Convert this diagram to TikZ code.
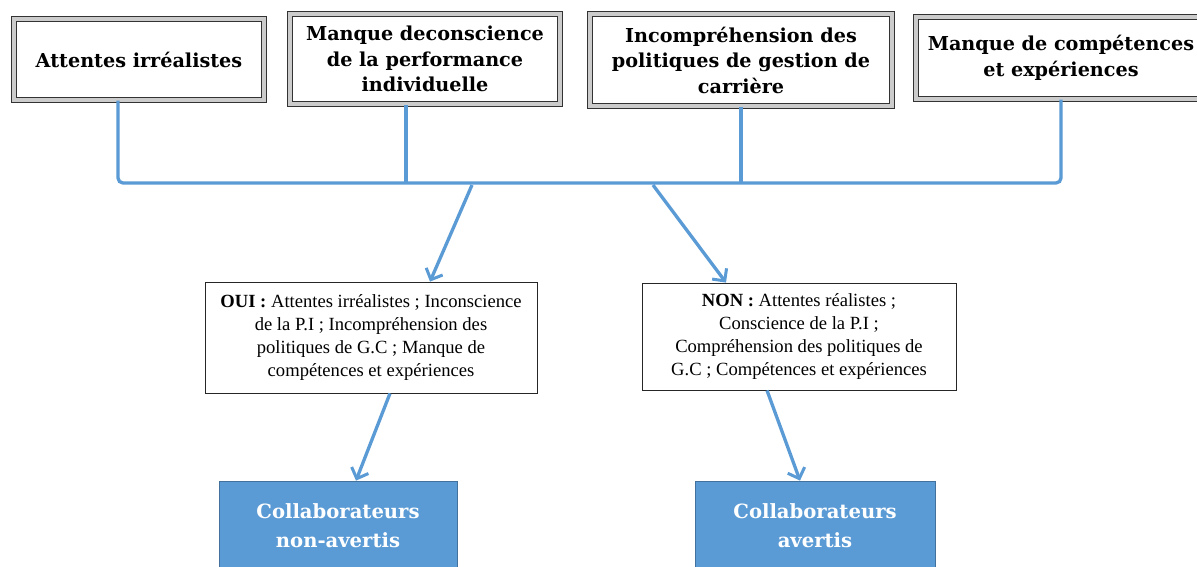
\documentclass[tikz,border=0pt]{standalone}
\usepackage{fontspec}
\setmainfont{Liberation Serif}
\newfontfamily\headfont{DejaVu Serif}
\usetikzlibrary{arrows.meta}
\definecolor{linkblue}{RGB}{91,155,213}
\definecolor{boxblue}{RGB}{91,155,213}
\definecolor{boxedge}{RGB}{65,113,156}
\tikzset{
  topbox/.style={draw=black!80, line width=1pt, double=black!20,
    double distance=3.5pt, fill=white, align=center, inner sep=0pt,
    font=\headfont\bfseries\fontsize{19.2}{25.5}\selectfont},
  midbox/.style={draw=black!85, line width=0.8pt, fill=white, align=center,
    inner sep=0pt, font=\fontsize{18.6}{23.3}\selectfont},
  endbox/.style={draw=boxedge, line width=0.8pt, fill=boxblue, text=white,
    align=center, inner sep=0pt,
    font=\headfont\bfseries\fontsize{19.6}{29}\selectfont},
  link/.style={draw=linkblue, line width=3.3pt},
  arr/.style={link, -{Straight Barb[length=9pt,width=18pt,line width=3pt]}},
}
\begin{document}
\begin{tikzpicture}[x=1pt,y=-1pt]
\clip (0,0) rectangle (1197,566);
\fill[white] (0,0) rectangle (1197,566);

% causes
\node[topbox, minimum width=250pt, minimum height=81pt] (b1) at (139,59.5)
  {Attentes irréalistes};
\node[topbox, minimum width=270pt, minimum height=90pt] (b2) at (425,59)
  {Manque deconscience\\de la performance\\individuelle};
\node[topbox, minimum width=302pt, minimum height=92pt] (b3) at (741,60)
  {Incompréhension des\\politiques de gestion de\\carrière};
\node[topbox, minimum width=290pt, minimum height=82pt] (b4) at (1061,58)
  {Manque de compétences\\et expériences};

% collecting bar
\coordinate (j1) at (118,183);
\coordinate (j2) at (406,183);
\coordinate (j3) at (741,183);
\coordinate (j4) at (1061,183);
\draw[link, rounded corners=5pt] (b1.south -| j1) -- (j1) -- (j4) -- (b4.south -| j4);
\draw[link] (b2.south -| j2) -- (j2);
\draw[link] (b3.south -| j3) -- (j3);

% outcomes
\node[midbox, minimum width=332pt, minimum height=111pt] (m1) at (371,337.5)
  {\textbf{OUI :} Attentes irréalistes ; Inconscience\\de la P.I ; Incompréhension des\\politiques de G.C ; Manque de\\compétences et expériences};
\node[midbox, minimum width=314pt, minimum height=107pt] (m2) at (799,336.5)
  {\textbf{NON :} Attentes réalistes ;\\Conscience de la P.I ;\\Compréhension des politiques de\\G.C ; Compétences et expériences};

\node[endbox, minimum width=238pt, minimum height=90pt] (e1) at (338,526)
  {Collaborateurs\\non-avertis};
\node[endbox, minimum width=240pt, minimum height=90pt] (e2) at (815,526)
  {Collaborateurs\\avertis};

% arrows
\coordinate (s1) at (472,185);
\coordinate (t1) at (430,0);
\coordinate (s2) at (653,185);
\coordinate (t2) at (726,0);
\draw[arr] (s1) -- (m1.north -| t1);
\draw[arr] (s2) -- (m2.north -| t2);

\coordinate (u1) at (390,0);
\coordinate (v1) at (356,0);
\coordinate (u2) at (767,0);
\coordinate (v2) at (800,0);
\draw[arr] (m1.south -| u1) -- (e1.north -| v1);
\draw[arr] (m2.south -| u2) -- (e2.north -| v2);
\end{tikzpicture}
\end{document}
